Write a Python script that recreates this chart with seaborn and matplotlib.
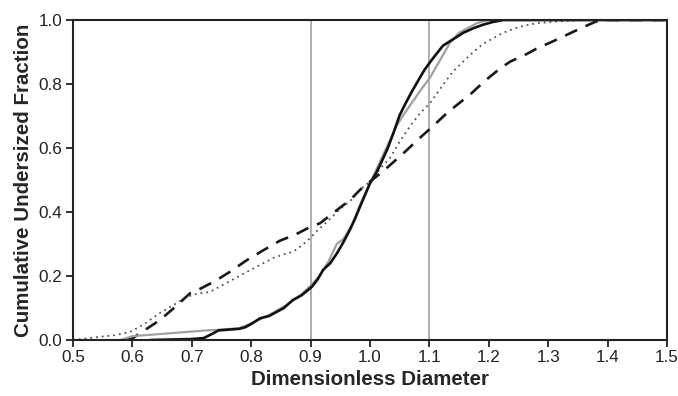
import matplotlib.pyplot as plt
import numpy as np
import pandas as pd
import seaborn as sns

sns.set_style("ticks")
plt.rcParams["font.family"] = ["Liberation Sans", "DejaVu Sans"]

# data
black_x = [0.63, 0.70, 0.72, 0.735, 0.745, 0.78, 0.79, 0.80, 0.815, 0.83, 0.843, 0.855, 0.87, 0.885,
           0.902, 0.912, 0.921, 0.933, 0.944, 0.955, 0.966, 0.975, 0.983, 0.992, 1.0, 1.01, 1.017,
           1.03, 1.04, 1.05, 1.06, 1.07, 1.084, 1.092, 1.101, 1.11, 1.123, 1.14, 1.157, 1.175,
           1.19, 1.205, 1.224, 1.5]
black_y = [0.0, 0.003, 0.006, 0.02, 0.03, 0.035, 0.04, 0.05, 0.068, 0.075, 0.088, 0.10, 0.125, 0.14,
           0.166, 0.19, 0.219, 0.24, 0.27, 0.305, 0.344, 0.38, 0.416, 0.455, 0.49, 0.52, 0.547,
           0.60, 0.65, 0.703, 0.74, 0.775, 0.82, 0.845, 0.868, 0.89, 0.92, 0.94, 0.96, 0.975,
           0.985, 0.993, 1.0, 1.0]

gray_x = [0.58, 0.60, 0.725, 0.745, 0.78, 0.80, 0.83, 0.86, 0.88, 0.90, 0.915, 0.93, 0.944, 0.955,
          0.97, 0.985, 1.0, 1.015, 1.03, 1.045, 1.056, 1.07, 1.085, 1.101, 1.115, 1.135, 1.15,
          1.165, 1.18, 1.2, 1.5]
gray_y = [0.0, 0.012, 0.03, 0.032, 0.037, 0.052, 0.078, 0.11, 0.135, 0.17, 0.20, 0.245, 0.30, 0.315,
          0.36, 0.43, 0.49, 0.55, 0.61, 0.67, 0.703, 0.74, 0.78, 0.82, 0.865, 0.93, 0.96,
          0.975, 0.99, 1.0, 1.0]

dot_x = [0.5, 0.545, 0.57, 0.596, 0.62, 0.646, 0.67, 0.692, 0.71, 0.73, 0.76, 0.793, 0.815, 0.837,
         0.855, 0.87, 0.885, 0.899, 0.913, 0.928, 0.95, 0.97, 0.983, 1.0, 1.017, 1.034, 1.05,
         1.07, 1.085, 1.101, 1.12, 1.14, 1.168, 1.19, 1.224, 1.25, 1.28, 1.32, 1.365, 1.5]
dot_y = [0.0, 0.01, 0.015, 0.025, 0.05, 0.084, 0.11, 0.135, 0.145, 0.15, 0.18, 0.213, 0.235, 0.256,
         0.268, 0.275, 0.295, 0.318, 0.345, 0.37, 0.41, 0.44, 0.47, 0.495, 0.535, 0.57, 0.62,
         0.675, 0.71, 0.74, 0.79, 0.84, 0.89, 0.925, 0.96, 0.978, 0.99, 0.996, 1.0, 1.0]

dash_x = [0.59, 0.6, 0.62, 0.646, 0.67, 0.697, 0.714, 0.74, 0.764, 0.793, 0.82, 0.848, 0.875, 0.899,
          0.916, 0.94, 0.966, 0.988, 1.0, 1.017, 1.034, 1.06, 1.08, 1.101, 1.13, 1.15, 1.168,
          1.18, 1.2, 1.22, 1.236, 1.26, 1.28, 1.31, 1.35, 1.38, 1.4, 1.5]
dash_y = [0.0, 0.005, 0.03, 0.062, 0.10, 0.146, 0.16, 0.185, 0.213, 0.25, 0.28, 0.31, 0.33, 0.353,
          0.365, 0.40, 0.437, 0.478, 0.495, 0.52, 0.547, 0.59, 0.625, 0.66, 0.71, 0.74, 0.766,
          0.787, 0.82, 0.85, 0.87, 0.89, 0.91, 0.935, 0.97, 0.995, 1.0, 1.0]

fig = plt.figure(figsize=(6.78, 3.96), dpi=100)
ax = fig.add_axes([0.1077, 0.1414, 0.8761, 0.8081])

for v in [0.9, 1.1]:
    ax.axvline(v, color="#9a9a9a", lw=1.1, zorder=1)

sns.lineplot(x=dot_x, y=dot_y, ax=ax, sort=False, color="#555555", lw=1.3, linestyle=(0, (1, 2.2)))
sns.lineplot(x=dash_x, y=dash_y, ax=ax, sort=False, color="#1a1a1a", lw=1.9, linestyle=(0, (5, 3.5)))
sns.lineplot(x=gray_x, y=gray_y, ax=ax, sort=False, color="#a0a0a0", lw=1.6)
sns.lineplot(x=black_x, y=black_y, ax=ax, sort=False, color="#111111", lw=1.9)

ax.set_xlim(0.5, 1.5)
ax.set_ylim(0.0, 1.0)
ax.set_xticks(np.arange(0.5, 1.51, 0.1))
ax.set_yticks(np.arange(0.0, 1.01, 0.2))
ax.xaxis.set_major_formatter(plt.FormatStrFormatter("%.1f"))
ax.yaxis.set_major_formatter(plt.FormatStrFormatter("%.1f"))
ax.tick_params(direction="out", length=5, width=1.3, labelsize=12.3, colors="#222222", pad=2.5)
for s in ax.spines.values():
    s.set_linewidth(1.5)
    s.set_color("#222222")

ax.set_xlabel("Dimensionless Diameter", fontsize=14.8, fontweight="bold", labelpad=3)
ax.set_ylabel("Cumulative Undersized Fraction", fontsize=14.8, fontweight="bold", labelpad=4)

plt.savefig("out.png", dpi=100)
